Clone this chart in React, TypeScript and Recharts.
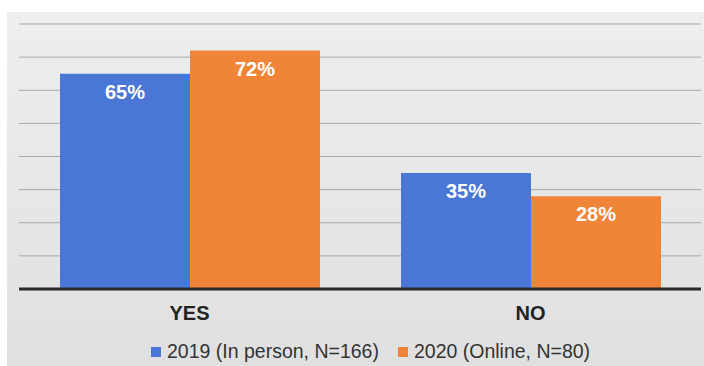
import { BarChart, Bar, XAxis, YAxis, CartesianGrid, LabelList } from 'recharts';

const categories = ['YES', 'NO'];
const series2019 = [65, 35];
const series2020 = [72, 28];
const yTicks = [0, 10, 20, 30, 40, 50, 60, 70, 80];

const SERIES = [
  { key: 'y2019', name: '2019 (In person, N=166)', color: '#4a77d6' },
  { key: 'y2020', name: '2020 (Online, N=80)', color: '#f0853a' },
];

const data = categories.map((name, i) => ({
  name,
  y2019: series2019[i],
  y2020: series2020[i],
}));

const FONT = '"Liberation Sans", Arial, Helvetica, sans-serif';

function CategoryTick(props: any) {
  const { x, y, payload } = props;
  return (
    <text
      x={x}
      y={y + 31}
      textAnchor="middle"
      fill="#222"
      fontSize={20}
      fontWeight={700}
      fontFamily={FONT}
    >
      {payload.value}
    </text>
  );
}

export default function App() {
  return (
    <div style={{ position: 'absolute', left: 0, top: 0, width: 704, height: 366, background: '#fff' }}>
      <div
        style={{
          position: 'absolute',
          left: 7,
          top: 12,
          width: 697,
          height: 354,
          background: 'linear-gradient(#eeeeee, #e0e0e0)',
        }}
      />
      <div style={{ position: 'absolute', left: 0, top: 0 }}>
        <BarChart
          width={704}
          height={366}
          data={data}
          margin={{ top: 24, right: 3, bottom: 47, left: 19 }}
          barCategoryGap={41}
          barGap={0}
        >
          <CartesianGrid vertical={false} stroke="#a9a9a9" strokeWidth={1} />
          <YAxis hide width={0} domain={[0, 80]} ticks={yTicks} />
          <XAxis
            dataKey="name"
            axisLine={{ stroke: '#2a2a2a', strokeWidth: 3 }}
            tickLine={false}
            tickSize={0}
            tickMargin={0}
            height={30}
            tick={<CategoryTick />}
          />
          {SERIES.map((s) => (
            <Bar key={s.key} dataKey={s.key} name={s.name} fill={s.color} isAnimationActive={false}>
              <LabelList
                dataKey={s.key}
                position="insideTop"
                offset={11}
                formatter={(v: any) => `${v}%`}
                fill="#fff"
                fontSize={20}
                fontWeight={700}
                fontFamily={FONT}
              />
            </Bar>
          ))}
        </BarChart>
      </div>
      <div
        style={{
          position: 'absolute',
          left: 151,
          top: 340,
          display: 'flex',
          alignItems: 'center',
          fontFamily: FONT,
          fontSize: 19.5,
          color: '#333',
          whiteSpace: 'nowrap',
        }}
      >
        {SERIES.map((s, i) => (
          <div key={s.key} style={{ display: 'flex', alignItems: 'center', marginRight: i === 0 ? 19 : 0 }}>
            <span style={{ width: 10, height: 10, background: s.color, marginRight: 6, display: 'inline-block' }} />
            <span>{s.name}</span>
          </div>
        ))}
      </div>
    </div>
  );
}
